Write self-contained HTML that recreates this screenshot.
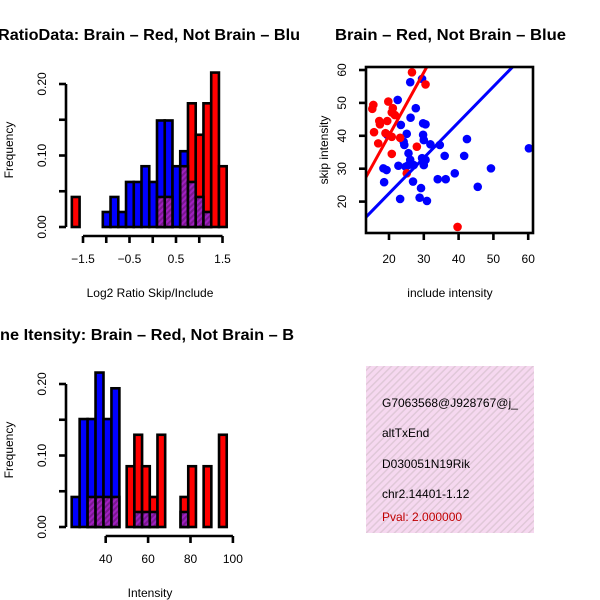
<!DOCTYPE html>
<html><head><meta charset="utf-8"><style>
html,body{margin:0;padding:0;background:#fff;}
svg{display:block;font-family:"Liberation Sans",sans-serif;}
</style></head><body>
<svg id="c" width="600" height="600" viewBox="0 0 600 600" xmlns="http://www.w3.org/2000/svg">
<defs>
<pattern id="hatch" width="4" height="4" patternUnits="userSpaceOnUse" patternTransform="rotate(45)">
<rect width="4" height="4" fill="#a020c0"/><rect width="2" height="4" fill="#7a1890"/></pattern>
<pattern id="pinkhatch" width="5" height="5" patternUnits="userSpaceOnUse" patternTransform="rotate(45)">
<rect width="5" height="5" fill="#f6d8f0"/><rect width="1.5" height="5" fill="#e0c8d8"/></pattern>
<clipPath id="clipL"><rect x="0" y="0" width="300" height="600"/></clipPath>
<clipPath id="clipS"><rect x="366" y="67" width="167" height="166"/></clipPath>
<clipPath id="clipT"><rect x="366" y="366" width="168" height="167"/></clipPath>
</defs>
<g id="p1"></g>
<g id="p2"></g>
<g id="p3"></g>
<g>
<rect x="366" y="366" width="168" height="167" fill="url(#pinkhatch)"/>
<g clip-path="url(#clipT)" font-size="12">
<text x="382" y="407">G7063568@J928767@j_</text>
<text x="382" y="437">altTxEnd</text>
<text x="382" y="468">D030051N19Rik</text>
<text x="382" y="498">chr2.14401-1.12</text>
<text x="382" y="521" fill="#c00000">Pval: 2.000000</text>
</g></g>
</svg>
<script>
// ---- Panel 1 data (Log2 ratio histogram)
const p1BinStart = -1.74;
const p1BinWidth = 0.1665;
const p1Red = [0.042,0,0,0,0,0,0,0,0,0,0,0,0,0,0,0.173,0.129,0.173,0.216,0.085];
const p1Blue = [0,0,0,0,0.021,0.042,0.021,0.063,0.063,0.085,0.063,0.149,0.149,0.085,0.106];
const p1Overlap = [0,0,0,0,0,0,0,0,0,0,0,0.042,0.042,0,0.085,0.063,0.042,0.021];
const p1XTicks = [-1.5,-1.0,-0.5,0,0.5,1.0,1.5];
const p1XLabels = ["\u22121.5","","\u22120.5","","0.5","","1.5"];
const yTicks = [0,0.05,0.10,0.15,0.20];
const yLabels = ["0.00","","0.10","","0.20"];
// ---- Panel 2 data (scatter)
const blueX = [22.5,29.5,26.1,27.7,26.2,23.4,29.8,30.5,19.5,25.1,24.2,24.4,29.8,30.0,31.9,34.6,42.4,25.6,26.1,25.6,27.1,29.5,30.5,30.0,36.0,41.6,18.4,19.3,22.7,18.6,26.9,29.2,23.2,28.8,30.9,34.0,36.3,38.9,45.5,49.3,60.2,24.8];
const blueY = [50.9,57.3,56.3,48.4,45.5,43.3,43.8,43.5,40.3,40.6,38.2,37.2,40.3,38.7,37.4,37.2,39.0,34.7,32.7,31.1,31.1,33.2,32.7,31.1,33.9,33.9,30.1,29.6,30.9,25.9,26.1,24.1,20.8,21.2,20.2,26.8,26.8,28.6,24.5,30.1,36.2,30.6];
const redX = [15.5,15.2,15.7,17.2,17.4,16.9,19.8,21.1,20.8,21.7,19.0,19.5,20.8,23.2,20.8,25.1,28.0,26.6,30.5,39.7];
const redY = [49.4,48.2,41.1,44.5,43.5,37.7,50.4,48.4,47.1,46.3,40.8,44.5,39.7,39.4,34.5,28.6,36.7,59.3,55.6,12.3];
const redFit = [1.82, 1.915];
const blueFit = [0.8, 1.083];
const p2XTicks = [20,30,40,50,60];
const p2YTicks = [20,30,40,50,60];
// ---- Panel 3 data (intensity histogram)
const p3BlueStart = 23.96, p3BlueWidth = 3.75;
const p3Blue = [0.042,0.151,0.151,0.216,0.151,0.194];
const p3BlueOverlap = [0,0,0.042,0.042,0.042,0.042];
const p3RedStart = 49.9, p3RedWidth = 3.63;
const p3Red = [0.085,0.129,0.085,0.042,0.129,0,0,0.042,0.085,0,0.085,0,0.129];
const p3RedOverlap = [0,0.021,0.021,0.021,0,0,0,0.021,0,0,0,0,0];
const p3XTicks = [40,60,80,100];

const NS="http://www.w3.org/2000/svg";
const SW=2.6;
function mk(parent,tag,attrs,txt){const e=document.createElementNS(NS,tag);for(const k in attrs)e.setAttribute(k,attrs[k]);if(txt!==undefined)e.textContent=txt;parent.appendChild(e);return e;}

function histPanel(g, yBase, xs, xTicks, xLabels, drawBars){
  const ys = v => yBase - v*715;
  let ax = mk(g,'line',{x1:66,x2:66,y1:ys(0.20),y2:ys(0),stroke:'#000','stroke-width':SW});
  
  
  yTicks.forEach((t,i)=>{
    let tk=mk(g,'line',{x1:59,x2:66,y1:ys(t),y2:ys(t),stroke:'#000','stroke-width':SW});
    
    
    if(yLabels[i]){
      let tl=mk(g,'text',{x:0,y:0,'font-size':12,'text-anchor':'middle',transform:`translate(46,${ys(t)}) rotate(-90)`},yLabels[i]);
      
      
    }
  });
  drawBars(ys);
  const xa = yBase+9;
  let xl=mk(g,'line',{x1:xs(xTicks[0]),x2:xs(xTicks[xTicks.length-1]),y1:xa,y2:xa,stroke:'#000','stroke-width':SW});
  
  
  xTicks.forEach((t,i)=>{
    let tk=mk(g,'line',{x1:xs(t),x2:xs(t),y1:xa,y2:xa+7,stroke:'#000','stroke-width':SW});
    
    
    if(xLabels[i]){
      let tl=mk(g,'text',{x:xs(t),y:xa+27,'font-size':12,'text-anchor':'middle'},xLabels[i]);
      
      
    }
  });
}
function bars(g, arr, start, width, xs, ys, fill, name){
  arr.forEach((v,i)=>{
    if(!v) return;
    const x0=xs(start+i*width), x1=xs(start+(i+1)*width);
    let r=mk(g,'rect',{x:x0,y:ys(v),width:x1-x0,height:ys(0)-ys(v),fill:fill,stroke:'#000','stroke-width':SW});
    
    
  });
}

// Panel 1
(function(){
  const g=document.getElementById('p1');
  const xs = v => 83 + (v+1.5)*46.5;
  let t=mk(g,'text',{x:-2,y:40,'font-size':16,'font-weight':'bold','clip-path':'url(#clipL)',textLength:302,lengthAdjust:'spacingAndGlyphs'},'RatioData: Brain \u2013 Red, Not Brain \u2013 Blu');
  
  
  histPanel(g,227,xs,p1XTicks,p1XLabels,ys=>{
    bars(g,p1Blue,p1BinStart,p1BinWidth,xs,ys,'#0000ff','blue-bar');
    bars(g,p1Red,p1BinStart,p1BinWidth,xs,ys,'#ff0000','red-bar');
    bars(g,p1Overlap,p1BinStart,p1BinWidth,xs,ys,'url(#hatch)','overlap-bar');
  });
  let yl=mk(g,'text',{transform:'translate(13,150) rotate(-90)','font-size':12,'text-anchor':'middle'},'Frequency');
  
  
  let xl=mk(g,'text',{x:150,y:297,'font-size':12,'text-anchor':'middle'},'Log2 Ratio Skip/Include');
  
  
})();

// Panel 2
(function(){
  const g=document.getElementById('p2');
  const xs = v => 389 + (v-20)*3.48;
  const ys = v => 70 + (60-v)*3.29;
  let t=mk(g,'text',{x:335,y:40,'font-size':16,'font-weight':'bold',textLength:231,lengthAdjust:'spacingAndGlyphs'},'Brain \u2013 Red, Not Brain \u2013 Blue');
  
  
  const pts=mk(g,'g',{'clip-path':'url(#clipS)'});
  blueX.forEach((x,i)=>{
    let c=mk(pts,'circle',{cx:xs(x),cy:ys(blueY[i]),r:4.3,fill:'#0000ff'});
    
    
  });
  redX.forEach((x,i)=>{
    let c=mk(pts,'circle',{cx:xs(x),cy:ys(redY[i]),r:4.3,fill:'#ff0000'});
    
    
  });
  [[blueFit,'#0000ff','blue-fit-line'],[redFit,'#ff0000','red-fit-line']].forEach(([f,col,n])=>{
    const xa=10,xb=70;
    let l=mk(pts,'line',{x1:xs(xa),y1:ys(f[0]+f[1]*xa),x2:xs(xb),y2:ys(f[0]+f[1]*xb),stroke:col,'stroke-width':3});
    
    
  });
  let box=mk(g,'rect',{x:366,y:67,width:167,height:166,fill:'none',stroke:'#000','stroke-width':SW});
  
  
  p2XTicks.forEach(v=>{
    let tk=mk(g,'line',{x1:xs(v),x2:xs(v),y1:233,y2:240,stroke:'#000','stroke-width':SW});
    
    
    let tl=mk(g,'text',{x:xs(v),y:263,'font-size':12,'text-anchor':'middle'},String(v));
    
    
  });
  p2YTicks.forEach(v=>{
    let tk=mk(g,'line',{x1:359,x2:366,y1:ys(v),y2:ys(v),stroke:'#000','stroke-width':SW});
    
    
    let tl=mk(g,'text',{transform:`translate(346,${ys(v)}) rotate(-90)`,'font-size':12,'text-anchor':'middle'},String(v));
    
    
  });
  let yl=mk(g,'text',{transform:'translate(328,150) rotate(-90)','font-size':12,'text-anchor':'middle'},'skip intensity');
  
  
  let xl=mk(g,'text',{x:450,y:297,'font-size':12,'text-anchor':'middle'},'include intensity');
  
  
})();

// Panel 3
(function(){
  const g=document.getElementById('p3');
  const xs = v => 105.7 + (v-40)*2.12;
  let t=mk(g,'text',{x:0,y:340,'font-size':16,'font-weight':'bold','clip-path':'url(#clipL)',textLength:294,lengthAdjust:'spacingAndGlyphs'},'ne Itensity: Brain \u2013 Red, Not Brain \u2013 B');
  
  
  histPanel(g,527,xs,p3XTicks,p3XTicks.map(String),ys=>{
    bars(g,p3Blue,p3BlueStart,p3BlueWidth,xs,ys,'#0000ff','blue-bar');
    bars(g,p3Red,p3RedStart,p3RedWidth,xs,ys,'#ff0000','red-bar');
    bars(g,p3BlueOverlap,p3BlueStart,p3BlueWidth,xs,ys,'url(#hatch)','overlap-bar');
    bars(g,p3RedOverlap,p3RedStart,p3RedWidth,xs,ys,'url(#hatch)','overlap-bar');
  });
  let yl=mk(g,'text',{transform:'translate(13,450) rotate(-90)','font-size':12,'text-anchor':'middle'},'Frequency');
  
  
  let xl=mk(g,'text',{x:150,y:597,'font-size':12,'text-anchor':'middle'},'Intensity');
  
  
})();
</script>
</body></html>
